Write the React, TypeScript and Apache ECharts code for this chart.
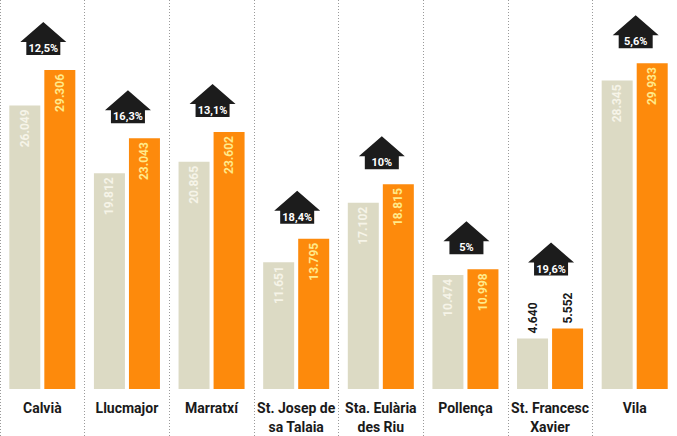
import React, { useEffect, useRef } from "react";
import * as echarts from "echarts";

const categories = [
  "Calvià",
  "Llucmajor",
  "Marratxí",
  "St. Josep de\nsa Talaia",
  "Sta. Eulària\ndes Riu",
  "Pollença",
  "St. Francesc\nXavier",
  "Vila",
];
const previousValues = [26049, 19812, 20865, 11651, 17102, 10474, 4640, 28345];
const currentValues = [29306, 23043, 23602, 13795, 18815, 10998, 5552, 29933];
const growthLabels = ["12,5%", "16,3%", "13,1%", "18,4%", "10%", "5%", "19,6%", "5,6%"];

const NARROW = "Roboto, 'Liberation Sans', sans-serif";
const SMALL_LIMIT = 8000;

const fmt = (v: number) => String(v).replace(/\B(?=(\d{3})+(?!\d))/g, ".");

function barLabel() {
  return {
    show: true,
    formatter: (p: any) => fmt(p.value),
    fontFamily: NARROW,
    fontWeight: "bold" as const,
    fontSize: 12,
  };
}

function makeData(values: number[], inColor: string) {
  return values.map((v) => {
    const small = v < SMALL_LIMIT;
    return {
      value: v,
      label: small
        ? {
            position: "top",
            rotate: 90,
            align: "left",
            verticalAlign: "middle",
            distance: 5,
            color: "#1a1a1a",
          }
        : {
            position: "insideTop",
            rotate: 90,
            align: "right",
            verticalAlign: "middle",
            distance: 4,
            color: inColor,
          },
    };
  });
}

export default function App() {
  const ref = useRef<HTMLDivElement>(null);
  useEffect(() => {
    if (!ref.current) return;
    const chart = echarts.init(ref.current, null, { renderer: "svg" });
    const option: any = {
      animation: false,
      backgroundColor: "#ffffff",
      grid: [
        { left: -3, width: 692, top: 8, bottom: 46 },
        { left: -3, width: 692, top: 0, bottom: 0 },
      ],
      xAxis: [
        {
          type: "category",
          gridIndex: 0,
          data: categories,
          axisLine: { show: false },
          axisTick: { show: false },
          axisLabel: {
            margin: 9,
            color: "#1a1a1a",
            fontFamily: NARROW,
            fontWeight: "bold",
            fontSize: 14,
            lineHeight: 19,
            interval: 0,
          },
          splitLine: { show: false },
        },
        {
          type: "category",
          gridIndex: 1,
          data: categories,
          axisLine: { show: false },
          axisTick: { show: false },
          axisLabel: { show: false },
          splitLine: {
            show: true,
            interval: 0,
            lineStyle: { color: "#9a9a9a", width: 1, type: [1, 2] },
          },
        },
      ],
      yAxis: [
        { type: "value", gridIndex: 0, min: 0, max: 35000, show: false },
        { type: "value", gridIndex: 1, min: 0, max: 1, show: false },
      ],
      series: [
        {
          type: "bar",
          xAxisIndex: 0,
          yAxisIndex: 0,
          barWidth: 31,
          barGap: "13%",
          itemStyle: { color: "#dcdac4" },
          label: barLabel(),
          data: makeData(previousValues, "#f6f4e8"),
          z: 3,
        },
        {
          type: "bar",
          xAxisIndex: 0,
          yAxisIndex: 0,
          barWidth: 31,
          barGap: "13%",
          itemStyle: { color: "#fd8a0c" },
          label: barLabel(),
          data: makeData(currentValues, "#ffe98a"),
          z: 3,
        },
        {
          type: "custom",
          xAxisIndex: 0,
          yAxisIndex: 0,
          clip: false,
          z: 5,
          data: currentValues.map((v, i) => [i, v]),
          renderItem: (params: any, api: any) => {
            const idx = api.value(0);
            const v = api.value(1);
            const pt = api.coord([idx, v]);
            const cx = pt[0] + 1;
            let b = pt[1] - 15;
            if (v < SMALL_LIMIT) b -= 38;
            return {
              type: "group",
              children: [
                {
                  type: "polygon",
                  shape: {
                    points: [
                      [cx - 23, b - 13],
                      [cx, b - 33],
                      [cx + 23, b - 13],
                      [cx + 17, b - 13],
                      [cx + 17, b],
                      [cx - 17, b],
                      [cx - 17, b - 13],
                    ],
                  },
                  style: { fill: "#1c1c1c" },
                },
                {
                  type: "text",
                  x: cx,
                  y: b - 6.5,
                  style: {
                    text: growthLabels[params.dataIndex],
                    fill: "#ffffff",
                    align: "center",
                    verticalAlign: "middle",
                    fontFamily: NARROW,
                    fontWeight: "bold",
                    fontSize: 11,
                  },
                },
              ],
            };
          },
        },
      ],
    };
    chart.setOption(option);
    return () => chart.dispose();
  }, []);
  return (
    <div
      ref={ref}
      style={{ position: "fixed", left: 0, top: 0, width: 677, height: 436, background: "#fff" }}
    />
  );
}
